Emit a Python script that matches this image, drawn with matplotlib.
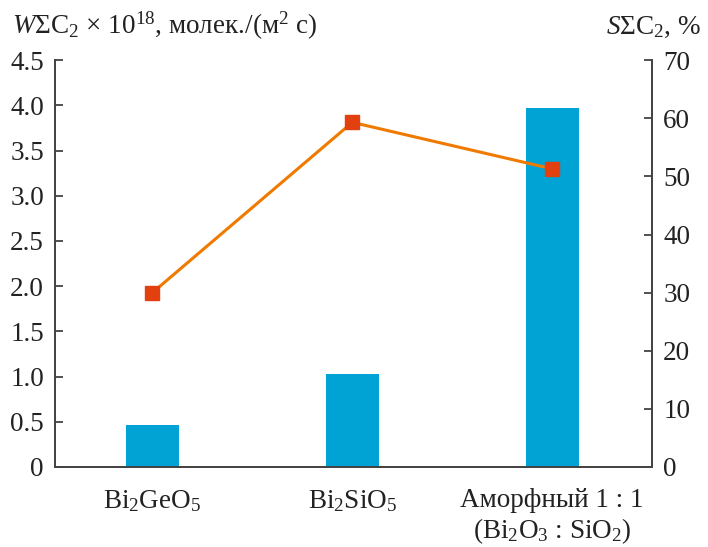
import matplotlib
matplotlib.use("Agg")
import matplotlib.pyplot as plt

plt.rcParams['font.family'] = 'serif'
plt.rcParams['font.serif'] = ['Liberation Serif', 'DejaVu Serif']
plt.rcParams['mathtext.fontset'] = 'custom'
plt.rcParams['mathtext.rm'] = 'Liberation Serif'
plt.rcParams['mathtext.it'] = 'Liberation Serif:italic'
plt.rcParams['mathtext.bf'] = 'Liberation Serif:bold'

# data
samples = ["Bi$_2$GeO$_5$", "Bi$_2$SiO$_5$",
           "Аморфный 1 : 1\n(Bi$_2$O$_3$ : SiO$_2$)"]
rate = [0.46, 1.03, 3.97]          # W, left axis
selectivity = [30.0, 59.3, 51.3]   # S, %, right axis

left_ticks = [0, 0.5, 1.0, 1.5, 2.0, 2.5, 3.0, 3.5, 4.0, 4.5]
left_labels = ["0", "0.5", "1.0", "1.5", "2.0", "2.5", "3.0", "3.5", "4.0", "4.5"]
right_ticks = [0, 10, 20, 30, 40, 50, 60, 70]

FS = 19.5

fig = plt.figure(figsize=(7.08, 5.47), dpi=100)
ax = fig.add_axes([0.0777, 0.1463, 0.8433, 0.7437])
x = list(range(len(samples)))

ax.bar(x, rate, width=0.265, color="#00A3D4", zorder=2)
ax.set_xlim(-0.4875, 2.5)
ax.set_ylim(0, 4.5)
ax.set_yticks(left_ticks)
ax.set_yticklabels(left_labels)
ax.set_xticks(x)
ax.set_xticklabels(samples, linespacing=1.15)
ax.tick_params(axis='x', length=0, pad=15, labelsize=FS, labelcolor='#222222')
ax.tick_params(axis='y', direction='in', length=6, width=1.2, labelsize=FS,
               colors='#333333', labelcolor='#222222', pad=8)
ax.spines['top'].set_visible(False)
for s in ['left', 'bottom', 'right']:
    ax.spines[s].set_color('#444444')
    ax.spines[s].set_linewidth(1.3)
# hide the tick mark at zero
ax.yaxis.get_major_ticks()[0].tick1line.set_visible(False)

ax2 = ax.twinx()
ax2.plot(x, selectivity, color="#F07A00", lw=2.2, marker='s', markersize=10,
         markerfacecolor="#E2400E", markeredgecolor="#E2400E", zorder=3)
ax2.set_ylim(0, 70)
ax2.set_yticks(right_ticks)
ax2.tick_params(axis='y', direction='in', length=6, width=1.2, labelsize=FS,
                colors='#333333', labelcolor='#222222', pad=8)
ax2.yaxis.get_major_ticks()[0].tick2line.set_visible(False)
ax2.spines['top'].set_visible(False)
for s in ['left', 'bottom', 'right']:
    ax2.spines[s].set_color('#444444')
    ax2.spines[s].set_linewidth(1.3)

fig.text(0.017, 0.938, "$W\\Sigma$C$_2$ × 10$^{18}$, молек./(м$^2$ с)",
         fontsize=FS, color='#222222', ha='left', va='baseline')
fig.text(0.99, 0.938, "$S\\Sigma$C$_2$, %", fontsize=FS, color='#222222',
         ha='right', va='baseline')

fig.savefig("out.png", dpi=100)
